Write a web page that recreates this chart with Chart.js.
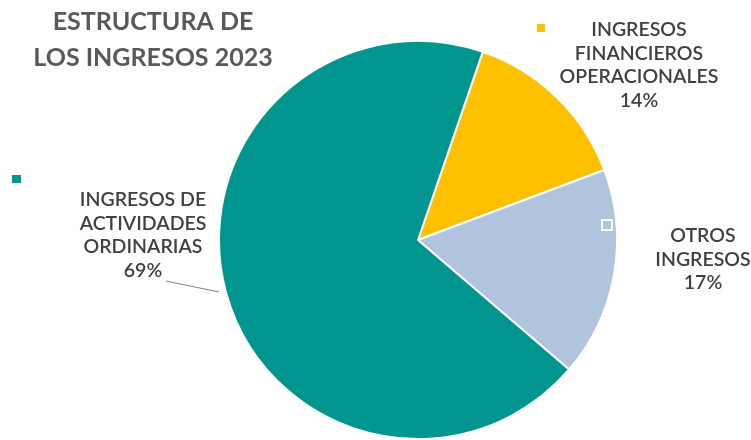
<!DOCTYPE html>
<html>
<head>
<meta charset="utf-8">
<script src="https://cdn.jsdelivr.net/npm/chart.js@4/dist/chart.umd.min.js"></script>
<style>
  html, body { margin: 0; padding: 0; background: #fff; }
  #wrap { width: 751px; height: 440px; position: relative; }
</style>
</head>
<body>
<div id="wrap"><canvas id="canvas-1"></canvas></div>
<script>
'use strict';

var categories = ['INGRESOS FINANCIEROS OPERACIONALES', 'OTROS INGRESOS', 'INGRESOS DE ACTIVIDADES ORDINARIAS'];
var shares = [14, 17, 69];
var colors = ['#FFC000', '#B0C4DE', '#00968F'];
var titleLines = ['ESTRUCTURA DE', 'LOS INGRESOS 2023'];

// label blocks: text lines + where they sit, plus the little colour key
var labelLines = [
  ['INGRESOS', 'FINANCIEROS', 'OPERACIONALES'],
  ['OTROS', 'INGRESOS'],
  ['INGRESOS DE', 'ACTIVIDADES', 'ORDINARIAS']
];
var labelPos = [
  { x: 639, y: 30, key: { x: 537, y: 24, w: 8, h: 8, stroke: false } },
  { x: 703, y: 236, key: { x: 602, y: 220, w: 10, h: 10, stroke: true } },
  { x: 143, y: 200, key: { x: 12, y: 175, w: 9, h: 8, stroke: false } }
];

var labelsPlugin = {
  id: 'labelsPlugin',
  afterDraw: function (chart) {
    var c = chart.ctx;
    c.save();

    // title
    c.fillStyle = '#595959';
    c.font = 'bold 25px Lato';
    c.textAlign = 'center';
    c.textBaseline = 'middle';
    c.fillText(titleLines[0], 153, 22);
    c.fillText(titleLines[1], 153, 58);

    // leader line for the big slice
    c.strokeStyle = '#808080';
    c.lineWidth = 1;
    c.beginPath();
    c.moveTo(166, 281);
    c.lineTo(219, 292);
    c.stroke();

    c.font = '600 19.5px Lato';
    for (var i = 0; i < labelLines.length; i++) {
      var p = labelPos[i];
      var lines = labelLines[i].concat([shares[i] + '%']);
      c.fillStyle = '#404040';
      for (var j = 0; j < lines.length; j++) {
        c.fillText(lines[j], p.x, p.y + j * 23.5);
      }
      var k = p.key;
      c.fillStyle = colors[i];
      c.fillRect(k.x, k.y, k.w, k.h);
      if (k.stroke) {
        c.strokeStyle = '#fff';
        c.lineWidth = 2;
        c.strokeRect(k.x, k.y, k.w, k.h);
      }
    }
    c.restore();
  }
};

var ctx = document.getElementById('canvas-1');
var chart = new Chart(ctx, {
  type: 'pie',
  data: {
    labels: categories,
    datasets: [{
      data: shares,
      backgroundColor: colors,
      borderColor: '#fff',
      borderWidth: 2
    }]
  },
  options: {
    responsive: true,
    maintainAspectRatio: false,
    animation: false,
    rotation: 19,
    layout: { padding: { top: 40, bottom: 0, left: 85, right: 0 } },
    plugins: {
      legend: { display: false },
      tooltip: { enabled: false }
    }
  },
  plugins: [labelsPlugin]
});
</script>
</body>
</html>
